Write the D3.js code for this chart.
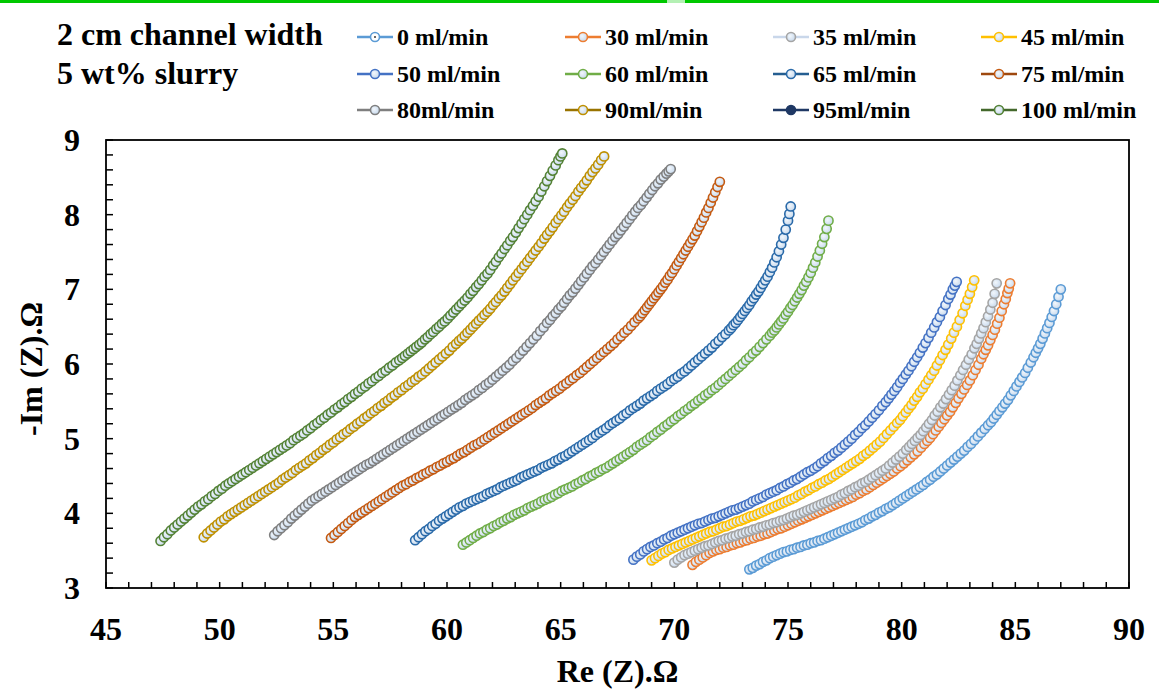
<!DOCTYPE html>
<html><head><meta charset="utf-8">
<script src="https://cdn.jsdelivr.net/npm/d3@7"></script>
<style>body{margin:0;background:#fff}svg{display:block}</style>
</head><body>
<svg id="c" width="1159" height="694"></svg>
<script>
// ---- data (Re(Z), -Im(Z)) ----
const titleLines = ["2 cm channel width", "5 wt% slurry"];
const xTicks = [45, 50, 55, 60, 65, 70, 75, 80, 85, 90];
const yTicks = [3, 4, 5, 6, 7, 8, 9];
const seriesNames = ["0 ml/min","30 ml/min","35 ml/min","45 ml/min","50 ml/min","60 ml/min","65 ml/min","75 ml/min","80ml/min","90ml/min","95ml/min","100 ml/min"];
const seriesColors = ["#5b9bd5","#ed7d31","#a5a5a5","#ffc000","#4472c4","#70ad47","#2a6aa9","#c55a11","#7f7f7f","#bf9000","#1f3864","#548235"];
const legendLineColors = ["#5b9bd5","#ed7d31","#c9d7ea","#ffc000","#4472c4","#70ad47","#255e91","#9e480e","#7f7f7f","#997300","#1f3864","#43682b"];

const s0 = [[73.3,3.25],[73.45,3.27],[73.6,3.30],[73.75,3.32],[73.9,3.35],[74.05,3.37],[74.2,3.40],[74.35,3.42],[74.5,3.44],[74.65,3.46],[74.8,3.48],[74.95,3.49],[75.1,3.51],[75.25,3.52],[75.4,3.54],[75.55,3.55],[75.7,3.57],[75.85,3.58],[76.0,3.60],[76.15,3.61],[76.3,3.63],[76.45,3.64],[76.6,3.66],[76.75,3.68],[76.9,3.70],[77.05,3.72],[77.2,3.74],[77.35,3.76],[77.5,3.78],[77.65,3.80],[77.8,3.82],[77.95,3.84],[78.1,3.86],[78.25,3.88],[78.4,3.91],[78.55,3.93],[78.7,3.96],[78.85,3.98],[79.0,4.01],[79.15,4.03],[79.3,4.06],[79.45,4.08],[79.6,4.11],[79.75,4.14],[79.9,4.17],[80.05,4.20],[80.2,4.23],[80.35,4.26],[80.5,4.29],[80.65,4.32],[80.8,4.35],[80.95,4.38],[81.1,4.42],[81.25,4.45],[81.4,4.49],[81.55,4.52],[81.7,4.56],[81.85,4.60],[82.0,4.64],[82.15,4.68],[82.3,4.72],[82.45,4.76],[82.6,4.80],[82.75,4.84],[82.9,4.89],[83.05,4.93],[83.2,4.98],[83.35,5.03],[83.5,5.08],[83.65,5.13],[83.8,5.18],[83.93,5.22],[84.05,5.27],[84.18,5.32],[84.3,5.37],[84.43,5.42],[84.55,5.47],[84.68,5.52],[84.8,5.58],[84.93,5.64],[85.05,5.70],[85.18,5.76],[85.3,5.82],[85.43,5.88],[85.55,5.95],[85.68,6.02],[85.8,6.09],[85.9,6.15],[86.0,6.21],[86.1,6.27],[86.2,6.34],[86.3,6.41],[86.4,6.48],[86.5,6.55],[86.6,6.63],[86.7,6.71],[86.8,6.80],[86.9,6.90],[87.0,7.00]];
const s30 = [[70.8,3.31],[70.95,3.35],[71.1,3.38],[71.25,3.41],[71.4,3.44],[71.55,3.47],[71.7,3.49],[71.85,3.51],[72.0,3.52],[72.15,3.54],[72.3,3.55],[72.45,3.57],[72.6,3.58],[72.75,3.60],[72.9,3.61],[73.05,3.63],[73.2,3.64],[73.35,3.66],[73.5,3.67],[73.65,3.69],[73.8,3.70],[73.95,3.72],[74.1,3.73],[74.25,3.75],[74.4,3.77],[74.55,3.79],[74.7,3.80],[74.85,3.82],[75.0,3.84],[75.15,3.86],[75.3,3.88],[75.45,3.90],[75.6,3.92],[75.75,3.94],[75.9,3.96],[76.05,3.98],[76.2,4.00],[76.35,4.02],[76.5,4.04],[76.65,4.06],[76.8,4.08],[76.95,4.10],[77.1,4.12],[77.25,4.14],[77.4,4.16],[77.55,4.18],[77.7,4.20],[77.85,4.22],[78.0,4.25],[78.15,4.27],[78.3,4.30],[78.45,4.32],[78.6,4.35],[78.75,4.38],[78.9,4.41],[79.05,4.44],[79.2,4.47],[79.35,4.50],[79.5,4.53],[79.65,4.56],[79.8,4.60],[79.95,4.63],[80.1,4.67],[80.25,4.71],[80.4,4.75],[80.55,4.79],[80.7,4.83],[80.85,4.88],[81.0,4.93],[81.13,4.97],[81.25,5.01],[81.38,5.06],[81.5,5.11],[81.63,5.16],[81.75,5.21],[81.88,5.26],[82.0,5.31],[82.13,5.36],[82.25,5.42],[82.38,5.48],[82.5,5.54],[82.63,5.60],[82.75,5.66],[82.88,5.72],[83.0,5.78],[83.13,5.85],[83.25,5.92],[83.38,5.99],[83.5,6.07],[83.6,6.13],[83.7,6.19],[83.8,6.25],[83.9,6.32],[84.0,6.39],[84.1,6.46],[84.2,6.54],[84.3,6.62],[84.4,6.71],[84.5,6.80],[84.58,6.87],[84.65,6.95],[84.71,7.01],[84.77,7.08]];
const s35 = [[70.0,3.34],[70.15,3.38],[70.3,3.41],[70.45,3.44],[70.6,3.46],[70.75,3.48],[70.9,3.50],[71.05,3.52],[71.2,3.54],[71.35,3.56],[71.5,3.57],[71.65,3.59],[71.8,3.61],[71.95,3.63],[72.1,3.64],[72.25,3.66],[72.4,3.67],[72.55,3.69],[72.7,3.70],[72.85,3.72],[73.0,3.73],[73.15,3.75],[73.3,3.76],[73.45,3.78],[73.6,3.79],[73.75,3.81],[73.9,3.82],[74.05,3.84],[74.2,3.85],[74.35,3.87],[74.5,3.88],[74.65,3.90],[74.8,3.91],[74.95,3.93],[75.1,3.95],[75.25,3.97],[75.4,3.98],[75.55,4.00],[75.7,4.02],[75.85,4.04],[76.0,4.06],[76.15,4.08],[76.3,4.10],[76.45,4.12],[76.6,4.14],[76.75,4.16],[76.9,4.18],[77.05,4.20],[77.2,4.22],[77.35,4.25],[77.5,4.27],[77.65,4.30],[77.8,4.32],[77.95,4.35],[78.1,4.37],[78.25,4.40],[78.4,4.42],[78.55,4.45],[78.7,4.48],[78.85,4.51],[79.0,4.54],[79.15,4.57],[79.3,4.60],[79.45,4.64],[79.6,4.68],[79.75,4.72],[79.9,4.76],[80.05,4.80],[80.2,4.85],[80.33,4.89],[80.45,4.93],[80.58,4.97],[80.7,5.01],[80.83,5.05],[80.95,5.10],[81.08,5.15],[81.2,5.20],[81.33,5.25],[81.45,5.31],[81.58,5.36],[81.7,5.42],[81.83,5.47],[81.95,5.53],[82.08,5.59],[82.2,5.65],[82.33,5.71],[82.45,5.78],[82.58,5.85],[82.7,5.92],[82.83,5.99],[82.95,6.06],[83.08,6.13],[83.2,6.21],[83.3,6.27],[83.4,6.34],[83.5,6.41],[83.6,6.48],[83.7,6.56],[83.8,6.64],[83.9,6.73],[84.0,6.82],[84.09,6.94],[84.18,7.08]];
const s45 = [[69.0,3.37],[69.15,3.40],[69.3,3.43],[69.45,3.46],[69.6,3.48],[69.75,3.51],[69.9,3.53],[70.05,3.55],[70.2,3.57],[70.35,3.59],[70.5,3.61],[70.65,3.63],[70.8,3.65],[70.95,3.67],[71.1,3.69],[71.25,3.71],[71.4,3.73],[71.55,3.75],[71.7,3.76],[71.85,3.78],[72.0,3.80],[72.15,3.82],[72.3,3.83],[72.45,3.85],[72.6,3.87],[72.75,3.89],[72.9,3.90],[73.05,3.92],[73.2,3.94],[73.35,3.96],[73.5,3.97],[73.65,3.99],[73.8,4.01],[73.95,4.03],[74.1,4.05],[74.25,4.07],[74.4,4.09],[74.55,4.11],[74.7,4.13],[74.85,4.15],[75.0,4.17],[75.15,4.19],[75.3,4.21],[75.45,4.24],[75.6,4.26],[75.75,4.29],[75.9,4.31],[76.05,4.34],[76.2,4.36],[76.35,4.39],[76.5,4.41],[76.65,4.44],[76.8,4.46],[76.95,4.49],[77.1,4.52],[77.25,4.55],[77.4,4.58],[77.55,4.61],[77.7,4.64],[77.85,4.67],[78.0,4.70],[78.15,4.73],[78.3,4.77],[78.45,4.80],[78.6,4.84],[78.75,4.88],[78.9,4.92],[79.05,4.96],[79.2,5.01],[79.35,5.06],[79.5,5.11],[79.65,5.16],[79.8,5.21],[79.93,5.25],[80.05,5.30],[80.18,5.35],[80.3,5.40],[80.43,5.45],[80.55,5.51],[80.68,5.56],[80.8,5.62],[80.93,5.67],[81.05,5.73],[81.18,5.79],[81.3,5.85],[81.43,5.91],[81.55,5.98],[81.68,6.05],[81.8,6.12],[81.93,6.19],[82.05,6.26],[82.18,6.34],[82.3,6.42],[82.43,6.50],[82.55,6.59],[82.68,6.68],[82.8,6.78],[82.9,6.86],[83.0,6.94],[83.1,7.03],[83.19,7.12]];
const s50 = [[68.2,3.38],[68.35,3.42],[68.5,3.45],[68.65,3.49],[68.8,3.52],[68.95,3.55],[69.1,3.57],[69.25,3.60],[69.4,3.62],[69.55,3.65],[69.7,3.67],[69.85,3.70],[70.0,3.72],[70.15,3.74],[70.3,3.76],[70.45,3.78],[70.6,3.80],[70.75,3.82],[70.9,3.84],[71.05,3.86],[71.2,3.87],[71.35,3.89],[71.5,3.91],[71.65,3.93],[71.8,3.94],[71.95,3.96],[72.1,3.98],[72.25,4.00],[72.4,4.02],[72.55,4.04],[72.7,4.05],[72.85,4.07],[73.0,4.09],[73.15,4.11],[73.3,4.13],[73.45,4.16],[73.6,4.18],[73.75,4.20],[73.9,4.22],[74.05,4.25],[74.2,4.27],[74.35,4.29],[74.5,4.31],[74.65,4.34],[74.8,4.36],[74.95,4.39],[75.1,4.41],[75.25,4.44],[75.4,4.46],[75.55,4.49],[75.7,4.52],[75.85,4.55],[76.0,4.57],[76.15,4.60],[76.3,4.63],[76.45,4.67],[76.6,4.70],[76.75,4.74],[76.9,4.77],[77.05,4.81],[77.2,4.84],[77.35,4.88],[77.5,4.92],[77.65,4.96],[77.8,5.00],[77.95,5.05],[78.1,5.09],[78.25,5.14],[78.4,5.18],[78.55,5.23],[78.7,5.28],[78.85,5.33],[79.0,5.38],[79.15,5.44],[79.3,5.49],[79.43,5.54],[79.55,5.59],[79.68,5.64],[79.8,5.69],[79.93,5.75],[80.05,5.80],[80.18,5.86],[80.3,5.91],[80.43,5.97],[80.55,6.03],[80.68,6.09],[80.8,6.15],[80.93,6.22],[81.05,6.28],[81.18,6.35],[81.3,6.42],[81.43,6.49],[81.55,6.56],[81.68,6.63],[81.8,6.71],[81.93,6.79],[82.05,6.87],[82.15,6.93],[82.25,7.00],[82.34,7.05],[82.42,7.10]];
const s60 = [[60.7,3.58],[60.85,3.61],[61.0,3.64],[61.15,3.67],[61.3,3.70],[61.45,3.73],[61.6,3.75],[61.75,3.78],[61.9,3.80],[62.05,3.83],[62.2,3.85],[62.35,3.88],[62.5,3.90],[62.65,3.93],[62.8,3.95],[62.95,3.98],[63.1,4.00],[63.25,4.02],[63.4,4.04],[63.55,4.07],[63.7,4.09],[63.85,4.11],[64.0,4.13],[64.15,4.16],[64.3,4.18],[64.45,4.20],[64.6,4.22],[64.75,4.25],[64.9,4.27],[65.05,4.30],[65.2,4.32],[65.35,4.34],[65.5,4.36],[65.65,4.39],[65.8,4.41],[65.95,4.44],[66.1,4.46],[66.25,4.49],[66.4,4.51],[66.55,4.54],[66.7,4.56],[66.85,4.59],[67.0,4.61],[67.15,4.64],[67.3,4.67],[67.45,4.70],[67.6,4.73],[67.75,4.76],[67.9,4.79],[68.05,4.82],[68.2,4.85],[68.35,4.89],[68.5,4.92],[68.65,4.95],[68.8,4.98],[68.95,5.02],[69.1,5.05],[69.25,5.09],[69.4,5.12],[69.55,5.16],[69.7,5.19],[69.85,5.23],[70.0,5.26],[70.15,5.30],[70.3,5.33],[70.45,5.37],[70.6,5.40],[70.75,5.44],[70.9,5.47],[71.05,5.51],[71.2,5.54],[71.35,5.58],[71.5,5.61],[71.65,5.65],[71.8,5.68],[71.95,5.72],[72.1,5.76],[72.25,5.80],[72.4,5.84],[72.55,5.88],[72.7,5.92],[72.85,5.96],[73.0,6.00],[73.15,6.05],[73.3,6.09],[73.45,6.14],[73.6,6.18],[73.75,6.23],[73.9,6.28],[74.05,6.33],[74.2,6.38],[74.3,6.42],[74.4,6.45],[74.5,6.49],[74.6,6.53],[74.7,6.57],[74.8,6.61],[74.9,6.66],[75.0,6.70],[75.1,6.75],[75.2,6.79],[75.3,6.84],[75.4,6.89],[75.5,6.94],[75.6,6.99],[75.7,7.05],[75.8,7.10],[75.9,7.16],[76.0,7.22],[76.1,7.29],[76.2,7.36],[76.3,7.44],[76.4,7.52],[76.5,7.61],[76.6,7.70],[76.7,7.81],[76.78,7.92]];
const s65 = [[58.6,3.64],[58.75,3.68],[58.9,3.72],[59.05,3.76],[59.2,3.79],[59.35,3.83],[59.5,3.86],[59.65,3.90],[59.8,3.93],[59.95,3.96],[60.1,3.99],[60.25,4.02],[60.4,4.05],[60.55,4.08],[60.7,4.10],[60.85,4.13],[61.0,4.15],[61.15,4.17],[61.3,4.19],[61.45,4.21],[61.6,4.23],[61.75,4.26],[61.9,4.28],[62.05,4.30],[62.2,4.32],[62.35,4.35],[62.5,4.37],[62.65,4.39],[62.8,4.41],[62.95,4.43],[63.1,4.45],[63.25,4.48],[63.4,4.50],[63.55,4.52],[63.7,4.54],[63.85,4.56],[64.0,4.58],[64.15,4.61],[64.3,4.63],[64.45,4.65],[64.6,4.67],[64.75,4.70],[64.9,4.72],[65.05,4.75],[65.2,4.77],[65.35,4.80],[65.5,4.83],[65.65,4.86],[65.8,4.89],[65.95,4.92],[66.1,4.95],[66.25,4.98],[66.4,5.01],[66.55,5.05],[66.7,5.08],[66.85,5.11],[67.0,5.14],[67.15,5.18],[67.3,5.21],[67.45,5.24],[67.6,5.27],[67.75,5.31],[67.9,5.34],[68.05,5.38],[68.2,5.41],[68.35,5.44],[68.5,5.47],[68.65,5.51],[68.8,5.54],[68.95,5.57],[69.1,5.60],[69.25,5.64],[69.4,5.67],[69.55,5.70],[69.7,5.73],[69.85,5.77],[70.0,5.80],[70.15,5.83],[70.3,5.87],[70.45,5.90],[70.6,5.94],[70.75,5.98],[70.9,6.02],[71.05,6.06],[71.2,6.10],[71.35,6.14],[71.5,6.18],[71.65,6.22],[71.8,6.27],[71.95,6.31],[72.1,6.36],[72.25,6.40],[72.4,6.45],[72.5,6.48],[72.6,6.52],[72.7,6.55],[72.8,6.59],[72.9,6.63],[73.0,6.67],[73.1,6.71],[73.2,6.75],[73.3,6.79],[73.4,6.84],[73.5,6.88],[73.6,6.93],[73.7,6.97],[73.8,7.02],[73.9,7.07],[74.0,7.12],[74.1,7.17],[74.2,7.23],[74.3,7.29],[74.4,7.36],[74.5,7.43],[74.6,7.51],[74.7,7.60],[74.8,7.69],[74.9,7.80],[75.0,7.92],[75.06,8.01],[75.12,8.11]];
const s75 = [[54.9,3.67],[55.05,3.71],[55.2,3.75],[55.35,3.79],[55.5,3.83],[55.65,3.87],[55.8,3.91],[55.95,3.95],[56.1,3.98],[56.25,4.01],[56.4,4.04],[56.55,4.07],[56.7,4.10],[56.85,4.13],[57.0,4.16],[57.15,4.19],[57.3,4.22],[57.45,4.25],[57.6,4.28],[57.75,4.31],[57.9,4.34],[58.05,4.37],[58.2,4.39],[58.35,4.42],[58.5,4.44],[58.65,4.47],[58.8,4.49],[58.95,4.52],[59.1,4.54],[59.25,4.57],[59.4,4.59],[59.55,4.62],[59.7,4.64],[59.85,4.67],[60.0,4.69],[60.15,4.72],[60.3,4.74],[60.45,4.77],[60.6,4.80],[60.75,4.82],[60.9,4.85],[61.05,4.88],[61.2,4.91],[61.35,4.93],[61.5,4.96],[61.65,4.99],[61.8,5.02],[61.95,5.05],[62.1,5.08],[62.25,5.11],[62.4,5.14],[62.55,5.17],[62.7,5.20],[62.85,5.23],[63.0,5.26],[63.15,5.29],[63.3,5.32],[63.45,5.35],[63.6,5.38],[63.75,5.41],[63.9,5.45],[64.05,5.48],[64.2,5.51],[64.35,5.54],[64.5,5.58],[64.65,5.61],[64.8,5.64],[64.95,5.67],[65.1,5.71],[65.25,5.74],[65.4,5.78],[65.55,5.81],[65.7,5.85],[65.85,5.88],[66.0,5.92],[66.15,5.96],[66.3,6.00],[66.45,6.04],[66.6,6.08],[66.75,6.12],[66.9,6.16],[67.05,6.20],[67.2,6.24],[67.35,6.28],[67.5,6.33],[67.65,6.37],[67.8,6.42],[67.95,6.46],[68.1,6.51],[68.25,6.56],[68.4,6.61],[68.5,6.64],[68.6,6.68],[68.7,6.72],[68.8,6.76],[68.9,6.80],[69.0,6.84],[69.1,6.88],[69.2,6.92],[69.3,6.96],[69.4,7.00],[69.5,7.04],[69.6,7.09],[69.7,7.13],[69.8,7.18],[69.9,7.22],[70.0,7.27],[70.1,7.32],[70.2,7.37],[70.3,7.42],[70.4,7.47],[70.5,7.52],[70.6,7.57],[70.7,7.62],[70.8,7.67],[70.9,7.72],[71.0,7.78],[71.1,7.84],[71.2,7.90],[71.3,7.96],[71.4,8.03],[71.5,8.09],[71.6,8.16],[71.7,8.23],[71.8,8.30],[71.9,8.37],[72.0,8.44]];
const s80 = [[52.4,3.71],[52.55,3.76],[52.7,3.80],[52.85,3.84],[53.0,3.88],[53.15,3.93],[53.3,3.97],[53.45,4.01],[53.6,4.05],[53.75,4.09],[53.9,4.13],[54.05,4.17],[54.2,4.20],[54.35,4.23],[54.5,4.26],[54.65,4.29],[54.8,4.32],[54.95,4.35],[55.1,4.38],[55.25,4.41],[55.4,4.44],[55.55,4.47],[55.7,4.50],[55.85,4.53],[56.0,4.56],[56.15,4.59],[56.3,4.62],[56.45,4.65],[56.6,4.67],[56.75,4.70],[56.9,4.73],[57.05,4.76],[57.2,4.79],[57.35,4.82],[57.5,4.85],[57.65,4.88],[57.8,4.91],[57.95,4.94],[58.1,4.97],[58.25,5.00],[58.4,5.03],[58.55,5.06],[58.7,5.09],[58.85,5.12],[59.0,5.15],[59.15,5.18],[59.3,5.21],[59.45,5.24],[59.6,5.27],[59.75,5.30],[59.9,5.33],[60.05,5.36],[60.2,5.39],[60.35,5.42],[60.5,5.45],[60.65,5.48],[60.8,5.52],[60.95,5.55],[61.1,5.58],[61.25,5.61],[61.4,5.65],[61.55,5.68],[61.7,5.72],[61.85,5.75],[62.0,5.79],[62.15,5.83],[62.3,5.87],[62.45,5.91],[62.6,5.95],[62.75,5.99],[62.9,6.04],[63.05,6.08],[63.2,6.13],[63.35,6.18],[63.5,6.23],[63.65,6.28],[63.8,6.33],[63.95,6.38],[64.1,6.44],[64.25,6.49],[64.4,6.55],[64.53,6.59],[64.65,6.64],[64.78,6.68],[64.9,6.73],[65.03,6.77],[65.15,6.82],[65.28,6.87],[65.4,6.92],[65.53,6.96],[65.65,7.01],[65.78,7.06],[65.9,7.11],[66.03,7.16],[66.15,7.21],[66.28,7.26],[66.4,7.31],[66.53,7.35],[66.65,7.40],[66.78,7.45],[66.9,7.50],[67.03,7.55],[67.15,7.60],[67.28,7.65],[67.4,7.70],[67.53,7.74],[67.65,7.79],[67.78,7.84],[67.9,7.89],[68.03,7.94],[68.15,7.99],[68.28,8.04],[68.4,8.09],[68.53,8.13],[68.65,8.18],[68.78,8.23],[68.9,8.28],[69.03,8.33],[69.15,8.38],[69.28,8.42],[69.4,8.47],[69.53,8.51],[69.65,8.55],[69.75,8.58],[69.84,8.61]];
const s90 = [[49.3,3.68],[49.45,3.73],[49.6,3.77],[49.75,3.81],[49.9,3.85],[50.05,3.89],[50.2,3.92],[50.35,3.96],[50.5,3.99],[50.65,4.02],[50.8,4.05],[50.95,4.08],[51.1,4.11],[51.25,4.14],[51.4,4.17],[51.55,4.20],[51.7,4.23],[51.85,4.26],[52.0,4.29],[52.15,4.32],[52.3,4.35],[52.45,4.38],[52.6,4.41],[52.75,4.45],[52.9,4.48],[53.05,4.51],[53.2,4.54],[53.35,4.58],[53.5,4.61],[53.65,4.64],[53.8,4.67],[53.95,4.71],[54.1,4.74],[54.25,4.78],[54.4,4.81],[54.55,4.85],[54.7,4.88],[54.85,4.92],[55.0,4.95],[55.15,4.99],[55.3,5.02],[55.45,5.06],[55.6,5.09],[55.75,5.13],[55.9,5.16],[56.05,5.20],[56.2,5.23],[56.35,5.27],[56.5,5.30],[56.65,5.34],[56.8,5.37],[56.95,5.41],[57.1,5.44],[57.25,5.48],[57.4,5.51],[57.55,5.55],[57.7,5.58],[57.85,5.62],[58.0,5.65],[58.15,5.69],[58.3,5.72],[58.45,5.76],[58.6,5.79],[58.75,5.83],[58.9,5.86],[59.05,5.90],[59.2,5.94],[59.35,5.98],[59.5,6.02],[59.65,6.06],[59.8,6.10],[59.95,6.14],[60.1,6.18],[60.25,6.23],[60.4,6.27],[60.53,6.31],[60.65,6.34],[60.78,6.38],[60.9,6.42],[61.03,6.46],[61.15,6.50],[61.28,6.54],[61.4,6.58],[61.53,6.62],[61.65,6.66],[61.78,6.70],[61.9,6.74],[62.03,6.79],[62.15,6.83],[62.28,6.88],[62.4,6.92],[62.53,6.97],[62.65,7.02],[62.78,7.07],[62.9,7.12],[63.03,7.17],[63.15,7.22],[63.28,7.27],[63.4,7.32],[63.53,7.37],[63.65,7.42],[63.78,7.47],[63.9,7.52],[64.03,7.57],[64.15,7.62],[64.28,7.68],[64.4,7.73],[64.53,7.78],[64.65,7.83],[64.78,7.89],[64.9,7.94],[65.03,7.99],[65.15,8.04],[65.28,8.10],[65.4,8.15],[65.53,8.20],[65.65,8.25],[65.78,8.31],[65.9,8.36],[66.03,8.41],[66.15,8.46],[66.28,8.52],[66.4,8.57],[66.53,8.62],[66.65,8.67],[66.78,8.73],[66.91,8.78]];
const s95 = []; // not visible in the plot (legend entry only)
const s100 = [[47.4,3.63],[47.55,3.68],[47.7,3.72],[47.85,3.77],[48.0,3.81],[48.15,3.85],[48.3,3.89],[48.45,3.93],[48.6,3.97],[48.75,4.01],[48.9,4.05],[49.05,4.09],[49.2,4.12],[49.35,4.16],[49.5,4.19],[49.65,4.23],[49.8,4.26],[49.95,4.30],[50.1,4.33],[50.25,4.37],[50.4,4.40],[50.55,4.43],[50.7,4.46],[50.85,4.49],[51.0,4.52],[51.15,4.55],[51.3,4.58],[51.45,4.61],[51.6,4.64],[51.75,4.67],[51.9,4.70],[52.05,4.73],[52.2,4.76],[52.35,4.79],[52.5,4.82],[52.65,4.85],[52.8,4.88],[52.95,4.91],[53.1,4.94],[53.25,4.98],[53.4,5.01],[53.55,5.04],[53.7,5.07],[53.85,5.11],[54.0,5.14],[54.15,5.18],[54.3,5.21],[54.45,5.25],[54.6,5.28],[54.75,5.32],[54.9,5.35],[55.05,5.39],[55.2,5.42],[55.35,5.46],[55.5,5.49],[55.65,5.53],[55.8,5.56],[55.95,5.60],[56.1,5.63],[56.25,5.67],[56.4,5.70],[56.55,5.74],[56.7,5.77],[56.85,5.81],[57.0,5.84],[57.15,5.88],[57.3,5.91],[57.45,5.95],[57.6,5.98],[57.75,6.02],[57.9,6.05],[58.03,6.08],[58.15,6.11],[58.28,6.14],[58.4,6.17],[58.53,6.20],[58.65,6.23],[58.78,6.26],[58.9,6.29],[59.03,6.33],[59.15,6.36],[59.28,6.40],[59.4,6.43],[59.53,6.47],[59.65,6.50],[59.78,6.54],[59.9,6.57],[60.03,6.61],[60.15,6.65],[60.28,6.69],[60.4,6.73],[60.53,6.77],[60.65,6.81],[60.78,6.85],[60.9,6.89],[61.03,6.94],[61.15,6.98],[61.28,7.03],[61.4,7.07],[61.53,7.12],[61.65,7.17],[61.78,7.21],[61.9,7.26],[62.03,7.32],[62.15,7.37],[62.28,7.43],[62.4,7.48],[62.53,7.54],[62.65,7.59],[62.78,7.65],[62.9,7.70],[63.03,7.76],[63.15,7.82],[63.28,7.88],[63.4,7.94],[63.53,8.00],[63.65,8.06],[63.78,8.12],[63.9,8.18],[64.03,8.24],[64.15,8.31],[64.28,8.38],[64.4,8.45],[64.53,8.52],[64.65,8.59],[64.78,8.66],[64.9,8.73],[64.99,8.78],[65.07,8.82]];

const seriesData = [s0, s30, s35, s45, s50, s60, s65, s75, s80, s90, s95, s100];

// ---- layout ----
const W = 1159, H = 694;
const plot = {left: 106, right: 1129, top: 140, bottom: 588};
const FONT = "'Liberation Serif','Times New Roman',serif";

const svg = d3.select("#c");
svg.append("rect").attr("width", W).attr("height", H).attr("fill", "#fff");
// green strip on the top edge of the picture
svg.append("rect").attr("x", 0).attr("y", 0).attr("width", W).attr("height", 3).attr("fill", "#00c800");
svg.append("rect").attr("x", 667).attr("y", 0).attr("width", 18).attr("height", 3).attr("fill", "#b4f0b4");

const x = d3.scaleLinear().domain([45, 90]).range([plot.left, plot.right]);
const y = d3.scaleLinear().domain([3, 9]).range([plot.bottom, plot.top]);

const defs = svg.append("defs");
const grad = defs.append("radialGradient").attr("id", "mk").attr("cx", "40%").attr("cy", "40%").attr("r", "65%");
grad.append("stop").attr("offset", "0%").attr("stop-color", "#f2f7fc");
grad.append("stop").attr("offset", "100%").attr("stop-color", "#c6d8ec");
defs.append("clipPath").attr("id", "clip").append("rect")
  .attr("x", plot.left).attr("y", plot.top).attr("width", plot.right - plot.left).attr("height", plot.bottom - plot.top);

// ---- series ----
const gS = svg.append("g").attr("clip-path", "url(#clip)");
const line = d3.line().x(d => x(d[0])).y(d => y(d[1]));
seriesData.forEach((data, i) => {
  if (!data.length) return;
  const g = gS.append("g");
  g.append("path").attr("d", line(data)).attr("fill", "none")
    .attr("stroke", seriesColors[i]).attr("stroke-width", 2);
  g.selectAll("circle").data(data).join("circle")
    .attr("cx", d => x(d[0])).attr("cy", d => y(d[1])).attr("r", 4.6)
    .attr("fill", "url(#mk)").attr("stroke", seriesColors[i]).attr("stroke-width", 1.6);
});

// ---- axes ----
const minorX = d3.range(45, 90.001, 1);
const minorY = d3.range(3, 9.001, 0.2);
const axG = svg.append("g").attr("stroke", "#000");
axG.selectAll("line.tx").data(minorX).join("line")
  .attr("x1", d => x(d)).attr("x2", d => x(d)).attr("y1", plot.bottom).attr("y2", plot.bottom - 6).attr("stroke-width", 1.5);
axG.selectAll("line.ty").data(minorY).join("line")
  .attr("y1", d => y(d)).attr("y2", d => y(d)).attr("x1", plot.left).attr("x2", plot.left + 7).attr("stroke-width", 1.5);
svg.append("rect").attr("x", plot.left).attr("y", plot.top)
  .attr("width", plot.right - plot.left).attr("height", plot.bottom - plot.top)
  .attr("fill", "none").attr("stroke", "#000").attr("stroke-width", 1.8);

svg.append("g").selectAll("text").data(xTicks).join("text")
  .attr("x", d => x(d)).attr("y", 640).attr("text-anchor", "middle")
  .attr("font-family", FONT).attr("font-weight", "bold").attr("font-size", 32).text(d => d);
svg.append("g").selectAll("text").data(yTicks).join("text")
  .attr("x", 80).attr("y", d => y(d) + 11).attr("text-anchor", "end")
  .attr("font-family", FONT).attr("font-weight", "bold").attr("font-size", 32).text(d => d);

svg.append("text").attr("x", (plot.left + plot.right) / 2).attr("y", 682).attr("text-anchor", "middle")
  .attr("font-family", FONT).attr("font-weight", "bold").attr("font-size", 32).text("Re (Z).Ω");
svg.append("text").attr("transform", "translate(42,369) rotate(-90)").attr("text-anchor", "middle")
  .attr("font-family", FONT).attr("font-weight", "bold").attr("font-size", 32).text("-Im (Z).Ω");

// ---- title block ----
svg.append("g").selectAll("text").data(titleLines).join("text")
  .attr("x", 57).attr("y", (d, i) => 45 + i * 39)
  .attr("font-family", FONT).attr("font-weight", "bold").attr("font-size", 32).text(d => d);

// ---- legend ----
const colX = [357, 565, 773, 981];
const rowY = [45, 82, 118];
const leg = svg.append("g");
seriesNames.forEach((name, i) => {
  const cx = colX[i % 4], by = rowY[Math.floor(i / 4)];
  const ly = by - 8;
  const g = leg.append("g");
  g.append("line").attr("x1", cx).attr("x2", cx + 36).attr("y1", ly).attr("y2", ly)
    .attr("stroke", legendLineColors[i]).attr("stroke-width", 2.5);
  g.append("circle").attr("cx", cx + 18).attr("cy", ly).attr("r", 4.5)
    .attr("fill", i === 10 ? "#1f3864" : (i === 0 ? "#fff" : "url(#mk)"))
    .attr("stroke", seriesColors[i]).attr("stroke-width", 1.6);
  if (i === 0) g.append("circle").attr("cx", cx + 18).attr("cy", ly).attr("r", 1).attr("fill", "#333");
  g.append("text").attr("x", cx + 40).attr("y", by)
    .attr("font-family", FONT).attr("font-weight", "bold").attr("font-size", 24).text(name);
});
</script>
</body></html>
